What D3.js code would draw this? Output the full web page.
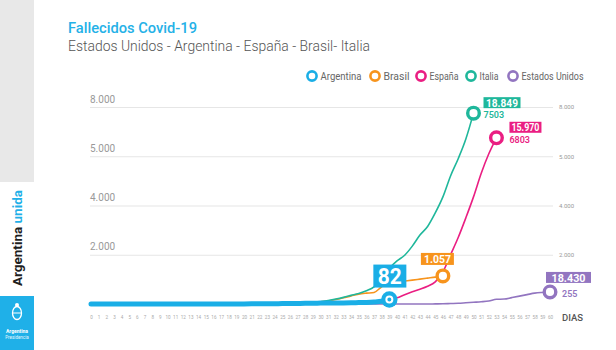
<!DOCTYPE html>
<html><head><meta charset="utf-8">
<script src="https://cdn.jsdelivr.net/npm/d3@7"></script>
<style>
html,body{margin:0;padding:0;background:#fff;}
svg{display:block;font-family:Roboto,"Open Sans",sans-serif;}
</style></head>
<body><svg id="chart" width="616" height="350"></svg>
<script>
// ---------- data ----------
const days = d3.range(0, 61);
const yTickValues = [2000, 4000, 6000, 8000];
const yTickLabels = ["2.000", "4.000", "5.000", "8.000"];
const seriesNames = ["Argentina", "Brasil", "España", "Italia", "Estados Unidos"];
const seriesColors = ["#1aaee6", "#f7941d", "#ea1e82", "#1fb79b", "#9275c0"];
const argentina = [0,0,0,0,0,0,0,1,1,2,2,2,2,2,2,2,3,3,4,4,5,6,8,9,12,17,19,23,27,28,36,39,43,44,48,56,63,80,110,180];
const brasil = [0,0,0,0,0,0,0,0,0,0,0,0,0,0,0,0,0,0,0,0,0,0,2,4,8,12,20,30,45,65,90,120,180,250,330,400,440,470,700,860,900,935,970,1010,1050,1090,1140];
const espana = [0,0,0,0,0,0,0,0,0,0,0,0,0,0,0,0,0,0,0,0,0,0,0,0,0,0,0,0,0,0,0,0,0,0,10,20,35,60,100,170,250,380,500,600,720,900,1300,2000,2700,3500,4350,5300,6100,6750];
const italia = [0,0,0,0,0,0,0,0,0,0,0,0,0,0,0,0,0,0,0,0,1,2,3,7,10,12,17,25,40,60,90,140,200,270,350,430,540,700,1050,1450,1750,1980,2350,2800,3150,3700,4350,5200,5900,6700,7750];
const eeuu = [0,0,0,0,0,0,0,0,0,0,0,0,0,0,0,0,0,0,0,0,0,0,0,0,0,0,0,0,0,0,0,0,0,0,0,0,0,0,0,0,0,0,0,0,0,5,10,20,30,50,70,90,120,190,200,260,320,380,440,470,490];
const totals = ["82", "1.057", "15.970", "18.849", "18.430"];
const lastValues = ["", "", "6803", "7503", "255"];

// ---------- layout ----------
const svg = d3.select("#chart");
const x = d3.scaleLinear().domain([0, 60]).range([91, 550]);
const y = d3.scaleLinear().domain([0, 8000]).range([304, 107]);

// sidebar
svg.append("rect").attr("x",0).attr("y",0).attr("width",34).attr("height",182).attr("fill","#e8e8e8");
svg.append("rect").attr("x",0).attr("y",296).attr("width",34).attr("height",54).attr("fill","#1fb0e8");
const side = svg.append("text").attr("transform","translate(22,286) rotate(-90)")
  .attr("font-size",13.5).attr("font-weight",700).attr("textLength",96).attr("lengthAdjust","spacingAndGlyphs");
side.append("tspan").attr("fill","#1e1e1e").text("Argentina");
side.append("tspan").attr("fill","#1fb0e8").text(" unida");
// emblem
const em = svg.append("g").attr("transform","translate(17,313)");
em.append("ellipse").attr("rx",4.5).attr("ry",6.5).attr("fill","none").attr("stroke","#fff").attr("stroke-width",1.3);
em.append("circle").attr("cy",-8).attr("r",2).attr("fill","#fff");
em.append("line").attr("x1",-4.5).attr("x2",4.5).attr("y1",0).attr("y2",0).attr("stroke","#fff").attr("stroke-width",1);
svg.append("text").attr("x",17).attr("y",333).attr("text-anchor","middle").attr("font-size",5).attr("font-weight",700).attr("fill","#fff").text("Argentina");
svg.append("text").attr("x",17).attr("y",339).attr("text-anchor","middle").attr("font-size",4.5).attr("fill","#e8f7fd").text("Presidencia");

// titles
svg.append("text").attr("x",68).attr("y",33).attr("font-size",15.5).attr("font-weight",500)
  .attr("fill","#25b1e7").attr("textLength",129).attr("lengthAdjust","spacingAndGlyphs").text("Fallecidos Covid-19");
svg.append("text").attr("x",68).attr("y",50.5).attr("font-size",15.5).attr("font-weight",300)
  .attr("fill","#555").attr("textLength",302).attr("lengthAdjust","spacingAndGlyphs")
  .text("Estados Unidos - Argentina - España - Brasil- Italia");

// legend
const legendX = [312, 375, 421, 471, 513];
const legendW = [41, 26, 29, 19, 62];
const leg = svg.append("g");
seriesNames.forEach((n,i)=>{
  leg.append("circle").attr("cx",legendX[i]).attr("cy",76).attr("r",4.6)
    .attr("fill","#fff").attr("stroke",seriesColors[i]).attr("stroke-width",2.6);
  leg.append("text").attr("x",legendX[i]+8.5).attr("y",79.5).attr("font-size",10.5).attr("fill","#666")
    .attr("textLength",legendW[i]).attr("lengthAdjust","spacingAndGlyphs").text(n);
});

// left axis (grid)
const yAxisL = d3.axisLeft(y).tickValues(yTickValues).tickSize(0)
  .tickFormat((d,i)=>yTickLabels[i]);
const gL = svg.append("g").attr("transform","translate(90,0)").call(yAxisL);
gL.select(".domain").remove();
gL.selectAll(".tick line").attr("x2",463).attr("stroke","#e6e6e6").attr("stroke-width",1.2);
gL.selectAll(".tick text").attr("x",0).attr("dy",-5).attr("text-anchor","start")
  .attr("font-size",10).attr("fill","#999").attr("font-family","Roboto,sans-serif");

// right axis labels
const yAxisR = d3.axisRight(y).tickValues(yTickValues).tickSize(0)
  .tickFormat((d,i)=>yTickLabels[i]);
const gR = svg.append("g").attr("transform","translate(559,0)").call(yAxisR);
gR.select(".domain").remove();
gR.selectAll(".tick text").attr("x",0).attr("font-size",6).attr("fill","#999").attr("font-family","Roboto,sans-serif");

// bottom axis
const xAxis = d3.axisBottom(x).tickValues(days).tickSize(0).tickFormat(d=>d);
const gX = svg.append("g").attr("transform","translate(0,316)").call(xAxis);
gX.select(".domain").remove();
gX.selectAll(".tick text").attr("y",0).attr("font-size",4.6).attr("fill","#aaa").attr("font-family","Roboto,sans-serif");
svg.append("text").attr("x",562).attr("y",321).attr("font-size",9.5).attr("fill","#555").attr("font-weight",500).text("DIAS");

// lines
const line = d3.line().x((d,i)=>x(i)).y(d=>y(d)).curve(d3.curveMonotoneX);
const allSeries = [argentina, brasil, espana, italia, eeuu];
const drawOrder = [4, 1, 2, 3, 0];
drawOrder.forEach(i=>{
  svg.append("path").datum(allSeries[i]).attr("d",line).attr("fill","none")
    .attr("stroke",seriesColors[i]).attr("stroke-width", i===0 ? 5 : 1.6)
    .attr("stroke-linecap","round");
});

// end markers and labels
const boxW = [33, 33, 32, 37, 45];
const boxH = [23, 12, 11, 11, 11];
const boxDX = [-16, -22, 13, 10, -4];
const boxDY = [-35, -23, -16, -16, -20];
const boxFont = [22, 11, 11, 11, 11.5];
const textW = [24, 27, 28, 32, 34];
const valDX = [0, 0, 13, 10, 12];
drawOrder.forEach(i=>{
  const s = allSeries[i];
  const last = s.length - 1;
  const cx = x(last), cy = y(s[last]);
  if (i===0) {
    svg.append("circle").attr("cx",cx).attr("cy",cy).attr("r",8.2).attr("fill",seriesColors[i]);
    svg.append("circle").attr("cx",cx).attr("cy",cy).attr("r",3).attr("fill",seriesColors[i]).attr("stroke","#fff").attr("stroke-width",2);
  } else {
    svg.append("circle").attr("cx",cx).attr("cy",cy).attr("r",5.8).attr("fill","#fff")
      .attr("stroke",seriesColors[i]).attr("stroke-width",3.4);
  }
  const bx = cx + boxDX[i], by = cy + boxDY[i];
  svg.append("rect").attr("x",bx).attr("y",by).attr("width",boxW[i]).attr("height",boxH[i]).attr("fill",seriesColors[i]);
  svg.append("text").attr("x",bx+boxW[i]/2 - textW[i]/2).attr("y",by+boxH[i]/2).attr("dy","0.36em")
    .attr("font-size",boxFont[i]).attr("font-weight",700).attr("fill","#fff")
    .attr("textLength",textW[i]).attr("lengthAdjust","spacingAndGlyphs")
    .text(totals[i]);
  if (lastValues[i]) {
    svg.append("text").attr("x",cx+valDX[i]).attr("y",cy+5).attr("font-size",9).attr("font-weight",600)
      .attr("fill",seriesColors[i]).text(lastValues[i]);
  }
});
</script></body></html>
